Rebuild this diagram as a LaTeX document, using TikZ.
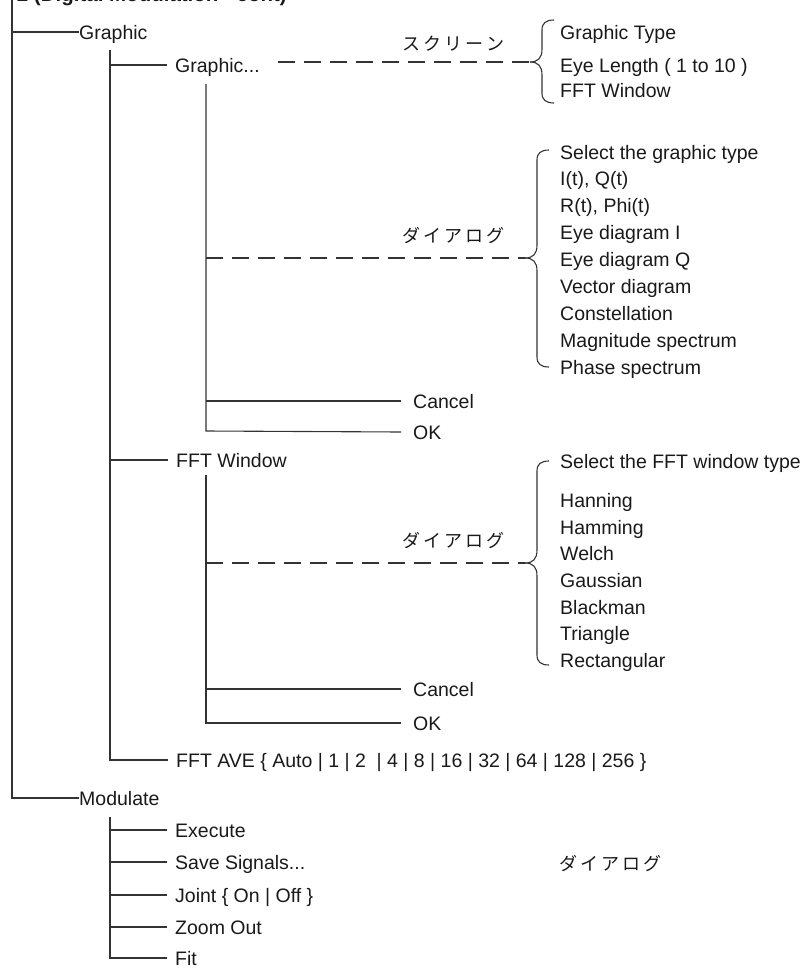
\documentclass[tikz,border=0pt]{standalone}
\usepackage{fontspec}
\setmainfont{Liberation Sans}
\newfontfamily\jpfont{Noto Sans CJK JP}
% curly brace opening to the right: tip x, top y, tip y, bottom y
\newcommand\menubrace[4]{%
  \draw[ln] (#1,#3) .. controls ({#1+8},#3) and ({#1+12},{#3-4}) .. ({#1+12},{#3-13})
    -- ({#1+12},{#2+10}) .. controls ({#1+12},{#2+3}) and ({#1+16},#2) .. ({#1+24},#2);
  \draw[ln] (#1,#3) .. controls ({#1+8},#3) and ({#1+12},{#3+4}) .. ({#1+12},{#3+13})
    -- ({#1+12},{#4-10}) .. controls ({#1+12},{#4-3}) and ({#1+16},#4) .. ({#1+24},#4);}
\newcommand\jsp{\kern3pt}
\begin{document}
\begin{tikzpicture}[x=1pt,y=-1pt,
  every node/.style={inner sep=0pt, anchor=west, text=black!90,
    text height=14pt, text depth=0pt, font=\fontsize{19.5}{22}\selectfont},
  ln/.style={line width=1.1pt, black!80},
  dl/.style={ln, dash pattern=on 17pt off 9pt},
  jlab/.style={font=\jpfont\fontsize{18}{20}\selectfont, text height=15pt, text depth=0pt},
  gap/.style={xshift=-8pt}
]
\useasboundingbox (0,0) rectangle (808,969);

% heading, partly cut off by the page edge
\begin{scope}
  \clip (0,0) rectangle (808,969);
  \node[anchor=base east, text height=, text depth=, font=\bfseries\fontsize{20.5}{24}\selectfont] (title) at (287,1.5) {2 (Digital Modulation - cont)};
\end{scope}

% ---------- Graphic ----------
\node (graphic) at (79,32) {Graphic};
\node (gdots) at (175,65) {Graphic...};
\node[jlab] (scr) at (402,43) {ス\jsp ク\jsp リ\jsp ー\jsp ン};
\node (gtype) at (560,32) {Graphic Type};
\node (eyelen) at (560,65) {Eye Length ( 1 to 10 )};
\node (fftw) at (560,90) {FFT Window};

\node[jlab] (dlg1) at (402,235) {ダ\jsp イ\jsp ア\jsp ロ\jsp グ};
\node (sel1) at (560,152) {Select the graphic type};
\node (it) at (560,178.9) {I(t), Q(t)};
\node (rt) at (560,205.8) {R(t), Phi(t)};
\node (eyei) at (560,232.7) {Eye diagram I};
\node (eyeq) at (560,259.6) {Eye diagram Q};
\node (vec) at (560,286.5) {Vector diagram};
\node (con) at (560,313.4) {Constellation};
\node (mag) at (560,340.3) {Magnitude spectrum};
\node (pha) at (560,367.2) {Phase spectrum};

\node (cancel1) at (413,401) {Cancel};
\node (ok1) at (413,432) {OK};

% ---------- FFT Window ----------
\node (fftwin) at (176,460) {FFT Window};
\node[jlab] (dlg2) at (402,540) {ダ\jsp イ\jsp ア\jsp ロ\jsp グ};
\node (sel2) at (560,461) {Select the FFT window type};
\node (han) at (560,500) {Hanning};
\node (ham) at (560,527) {Hamming};
\node (wel) at (560,553) {Welch};
\node (gau) at (560,580) {Gaussian};
\node (bla) at (560,607) {Blackman};
\node (tri) at (560,633) {Triangle};
\node (rec) at (560,660) {Rectangular};
\node (cancel2) at (413,689) {Cancel};
\node (ok2) at (413,723) {OK};

\node (fftave) at (176,760) {FFT AVE \{ Auto | 1 | 2 \ | 4 | 8 | 16 | 32 | 64 | 128 | 256 \}};

% ---------- Modulate ----------
\node (mod) at (79,798) {Modulate};
\node (exe) at (175,830) {Execute};
\node (save) at (175,862) {Save Signals...};
\node (joint) at (175,895) {Joint \{ On | Off \}};
\node (zoom) at (175,927) {Zoom Out};
\node (fit) at (175,958) {Fit};
\node[jlab] (dlg3) at (559,863) {ダ\jsp イ\jsp ア\jsp ロ\jsp グ};

% ---------- tree lines ----------
% main trunk
\draw[ln] (12,-2) -- (12,798) -- (mod.west);
\draw[ln] (12,32) -- (graphic.west);
% Graphic branch
\draw[ln] (110,50) -- (110,760) -- ([gap]fftave.west);
\draw[ln] (110,65) -- ([gap]gdots.west);
\draw[ln] (110,460) -- ([gap]fftwin.west);
% Graphic... dialog
\draw[ln] (206,84) -- (206,431) -- ([xshift=-12pt]ok1.west);
\draw[ln] (206,401) -- ([xshift=-12pt]cancel1.west);
\draw[dl] (278,62) -- (530,62);
\draw[dl] (206,258) -- (525,258);
% FFT Window dialog
\draw[ln] (206,475) -- (206,723) -- ([xshift=-12pt]ok2.west);
\draw[ln] (206,689) -- ([xshift=-12pt]cancel2.west);
\draw[dl] (206,563) -- (525,563);
% Modulate branch
\draw[ln] (110,817) -- (110,958) -- ([gap]fit.west);
\foreach \n in {exe,save,joint,zoom} \draw[ln] (110,0 |- \n.west) -- ([gap]\n.west);

% braces
\menubrace{530}{20}{62}{103}
\menubrace{525}{150}{258}{367}
\menubrace{525}{461}{563}{665}
\end{tikzpicture}
\end{document}
